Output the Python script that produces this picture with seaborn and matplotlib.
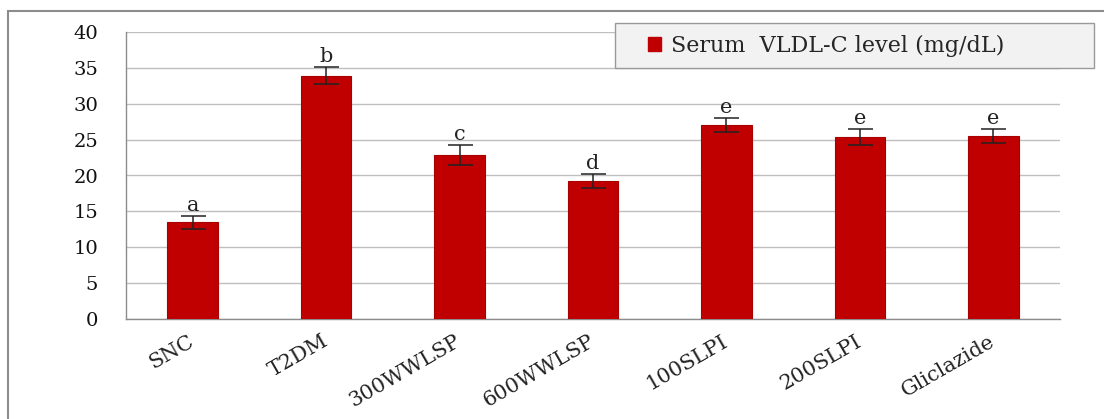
import matplotlib
matplotlib.use("Agg")
import matplotlib.pyplot as plt
from matplotlib.patches import Rectangle, Patch
import seaborn as sns
import pandas as pd

# Serum VLDL-C by treatment group
groups = ["SNC", "T2DM", "300WWLSP", "600WWLSP", "100SLPI", "200SLPI", "Gliclazide"]
vldl = [13.5, 33.9, 22.9, 19.2, 27.0, 25.4, 25.5]
sem = [0.9, 1.2, 1.4, 1.0, 1.0, 1.1, 1.0]
letters = ["a", "b", "c", "d", "e", "e", "e"]
yticks = [0, 5, 10, 15, 20, 25, 30, 35, 40]

BAR = "#c00000"
GRID = "#bfbfbf"
AXIS = "#8c8c8c"
W, H = 1104, 419

sns.set_theme(style="white")
plt.rcParams["font.family"] = ["DejaVu Serif", "Liberation Serif"]

df = pd.DataFrame({"group": groups, "vldl": vldl})

fig = plt.figure(figsize=(W / 100, H / 100), dpi=100)
ax = fig.add_axes([126 / W, 1 - 319 / H, (1060 - 126) / W, (319 - 32) / H])

sns.barplot(data=df, x="group", y="vldl", order=groups, color=BAR,
            saturation=1, width=0.38, errorbar=None, edgecolor="#a80000",
            linewidth=0.8, ax=ax, zorder=3)

xs = list(range(len(groups)))
ax.errorbar(xs, vldl, yerr=sem, fmt="none", ecolor="#222222", elinewidth=1.1,
            capsize=9, capthick=1.1, zorder=4)

for x, v, e, lab in zip(xs, vldl, sem, letters):
    ax.annotate(lab, (x, v + e), xytext=(0, 0.5), textcoords="offset points",
                ha="center", va="bottom", fontsize=15, color="#222222", zorder=5)

ax.set_ylim(0, 40)
ax.set_xlim(-0.5, len(groups) - 0.5)
ax.set_yticks(yticks)
ax.set_yticklabels([str(t) for t in yticks], fontsize=14, color="#111111")
ax.yaxis.grid(True, color=GRID, linewidth=1.0, zorder=0)
ax.set_axisbelow(True)

ax.set_xticks(xs)
ax.set_xticklabels(groups, rotation=30, ha="right", va="center",
                   rotation_mode="anchor", fontsize=15, color="#222222")
ax.tick_params(axis="x", which="major", length=0, pad=15)
ax.set_xticks([i - 0.5 for i in range(len(groups) + 1)], minor=True)
ax.tick_params(axis="x", which="minor", length=5, color=AXIS, width=1.0,
               direction="out")
ax.tick_params(axis="y", which="major", length=8, color=GRID, width=1.0,
               direction="out", pad=12)

for side in ("top", "right"):
    ax.spines[side].set_visible(False)
for side in ("left", "bottom"):
    ax.spines[side].set_color(AXIS)
    ax.spines[side].set_linewidth(1.0)
ax.set_xlabel("")
ax.set_ylabel("")

# legend box (drawn as its own panel) with the legend entry inside it
fig.patches.append(Rectangle((615 / W, 1 - 68 / H), (1094 - 615) / W, 45 / H,
                             transform=fig.transFigure, facecolor="#f2f2f2",
                             edgecolor="#9a9a9a", linewidth=1.0, zorder=1))
handle = Patch(facecolor=BAR, edgecolor=BAR)
leg = fig.legend([handle], ["Serum  VLDL-C level (mg/dL)"],
                 loc="center left", bbox_to_anchor=(648 / W, 1 - 46 / H),
                 fontsize=16, frameon=False, handlelength=0.6,
                 handleheight=0.6, handletextpad=0.45, borderpad=0,
                 borderaxespad=0)
leg.set_zorder(2)

# outer chart frame
fig.patches.append(Rectangle((8 / W, -0.05), 1.2, (1 - 11 / H) + 0.05,
                             transform=fig.transFigure, fill=False,
                             edgecolor="#8c8c8c", linewidth=1.5, zorder=0))

fig.savefig("out.png", dpi=100)
